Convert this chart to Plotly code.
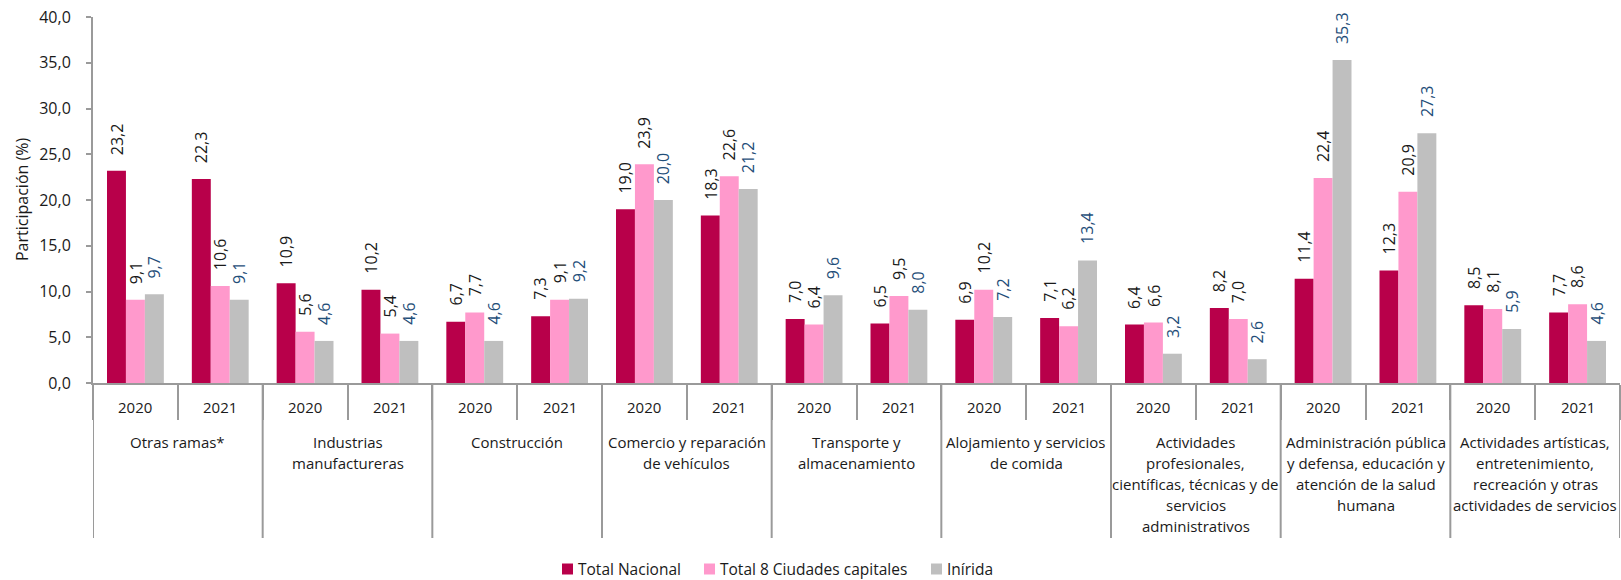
import plotly.graph_objects as go

# ---- data ----
RAMAS = [
    "Otras ramas*",
    "Industrias<br>manufactureras",
    "Construcción",
    "Comercio y reparación<br>de vehículos",
    "Transporte y<br>almacenamiento",
    "Alojamiento y servicios<br>de comida",
    "Actividades<br>profesionales,<br>científicas, técnicas y de<br>servicios<br>administrativos",
    "Administración pública<br>y defensa, educación y<br>atención de la salud<br>humana",
    "Actividades artísticas,<br>entretenimiento,<br>recreación y otras<br>actividades de servicios",
]
YEARS = ["2020", "2021"]

# one value per (rama, year), in order
TOTAL_NACIONAL = [23.2, 22.3, 10.9, 10.2, 6.7, 7.3, 19.0, 18.3, 7.0, 6.5,
                  6.9, 7.1, 6.4, 8.2, 11.4, 12.3, 8.5, 7.7]
TOTAL_8_CIUDADES = [9.1, 10.6, 5.6, 5.4, 7.7, 9.1, 23.9, 22.6, 6.4, 9.5,
                    10.2, 6.2, 6.6, 7.0, 22.4, 20.9, 8.1, 8.6]
INIRIDA = [9.7, 9.1, 4.6, 4.6, 4.6, 9.2, 20.0, 21.2, 9.6, 8.0,
           7.2, 13.4, 3.2, 2.6, 35.3, 27.3, 5.9, 4.6]

SERIES = [
    ("Total Nacional", TOTAL_NACIONAL, "#B8004A", "#1A1A1A"),
    ("Total 8 Ciudades capitales", TOTAL_8_CIUDADES, "#FF99CC", "#1A1A1A"),
    ("Inírida", INIRIDA, "#BFBFBF", "#1F4E79"),
]

# ---- layout constants (pixels on the page) ----
W, H = 1621, 580
M_L, M_R, M_T, M_B = 93, 1, 17, 197
PLOT_W = W - M_L - M_R
PLOT_H = H - M_T - M_B
BARGAP = 0.33
AXIS_COLOR = "#9A9A9A"
FONT = "Open Sans, Segoe UI, sans-serif"
TEXT = "#1A1A1A"
LEGEND_X = [562, 704, 931]   # left edge of each legend swatch
LEGEND_Y = 569


def px_x(x):
    return (x - M_L) / PLOT_W


def px_y(y):
    return (M_T + PLOT_H - y) / PLOT_H


slots = [f"{r}|{y}" for r in RAMAS for y in YEARS]
slot_px = PLOT_W / len(slots)
bar_px = slot_px * (1 - BARGAP) / len(SERIES)

fig = go.Figure()
for name, vals, color, _ in SERIES:
    fig.add_trace(go.Bar(
        x=slots, y=vals, name=name, marker_color=color,
        marker_line_width=0,
    ))

annotations = []
shapes = []

# data labels, rotated, above each bar
for k, (name, vals, color, lab_color) in enumerate(SERIES):
    for s, v in zip(slots, vals):
        annotations.append(dict(
            x=s, y=v, xref="x", yref="y",
            text=f"{v:.1f}".replace(".", ","),
            textangle=-90, showarrow=False,
            xanchor="center", yanchor="bottom",
            xshift=(k - 1) * bar_px, yshift=14,
            font=dict(size=16, color=lab_color, family=FONT),
        ))

# year labels
for s in slots:
    annotations.append(dict(
        x=s, y=px_y(407), xref="x", yref="paper",
        text=s.split("|")[1], showarrow=False,
        xanchor="center", yanchor="middle",
        font=dict(size=15, color=TEXT, family=FONT),
    ))

# rama labels, one annotation per line to match the wider line spacing
for i, r in enumerate(RAMAS):
    for j, line in enumerate(r.split("<br>")):
        annotations.append(dict(
            x=2 * i + 0.5, y=px_y(442 + 21 * j), xref="x", yref="paper",
            text=line, showarrow=False,
            xanchor="center", yanchor="middle",
            font=dict(size=15, color=TEXT, family=FONT),
        ))

# long dividers between ramas
for i in range(len(RAMAS) + 1):
    shapes.append(dict(
        type="line", xref="x", yref="paper",
        x0=2 * i - 0.5, x1=2 * i - 0.5, y0=0, y1=px_y(538),
        line=dict(color=AXIS_COLOR, width=2),
    ))

# y axis title
annotations.append(dict(
    x=px_x(22), y=0.5, xref="paper", yref="paper",
    text="Participación (%)", textangle=-90, showarrow=False,
    xanchor="center", yanchor="middle",
    font=dict(size=16, color=TEXT, family=FONT),
))

# legend drawn by hand so it does not push the bottom margin
for (name, _, color, _), lx in zip(SERIES, LEGEND_X):
    shapes.append(dict(
        type="rect", xref="paper", yref="paper",
        x0=px_x(lx), x1=px_x(lx + 11),
        y0=px_y(LEGEND_Y + 5.5), y1=px_y(LEGEND_Y - 5.5),
        fillcolor=color, line=dict(width=0),
    ))
    annotations.append(dict(
        x=px_x(lx + 14), y=px_y(LEGEND_Y), xref="paper", yref="paper",
        text=name, showarrow=False, xanchor="left", yanchor="middle",
        font=dict(size=15.5, color=TEXT, family=FONT),
    ))

fig.update_layout(
    width=W, height=H,
    margin=dict(l=M_L, r=M_R, t=M_T, b=M_B),
    paper_bgcolor="white", plot_bgcolor="white",
    font=dict(family=FONT, size=15, color=TEXT),
    separators=",.",
    barmode="group", bargap=BARGAP, bargroupgap=0,
    annotations=annotations, shapes=shapes,
    showlegend=False,
    xaxis=dict(
        type="category", categoryorder="array", categoryarray=slots,
        range=[-0.5, len(slots) - 0.5],
        showticklabels=False, showgrid=False, zeroline=False,
        showline=True, linecolor=AXIS_COLOR, linewidth=2,
        ticks="outside", tickson="boundaries", ticklen=35,
        tickcolor=AXIS_COLOR, tickwidth=2,
    ),
    yaxis=dict(
        range=[0, 40], dtick=5, tickformat=".1f",
        showgrid=False, zeroline=False,
        showline=True, linecolor=AXIS_COLOR, linewidth=2,
        ticks="outside", ticklen=5, tickcolor=AXIS_COLOR, tickwidth=2,
        ticklabelstandoff=12, ticklabeloverflow="allow",
        tickfont=dict(size=16, color=TEXT),
    ),
)

# drop the default page margin so the figure fills the window exactly
fig.write_html(
    "out.html",
    config={"displayModeBar": False},
    post_script="document.body.style.margin='0';document.body.style.overflow='hidden';",
)
